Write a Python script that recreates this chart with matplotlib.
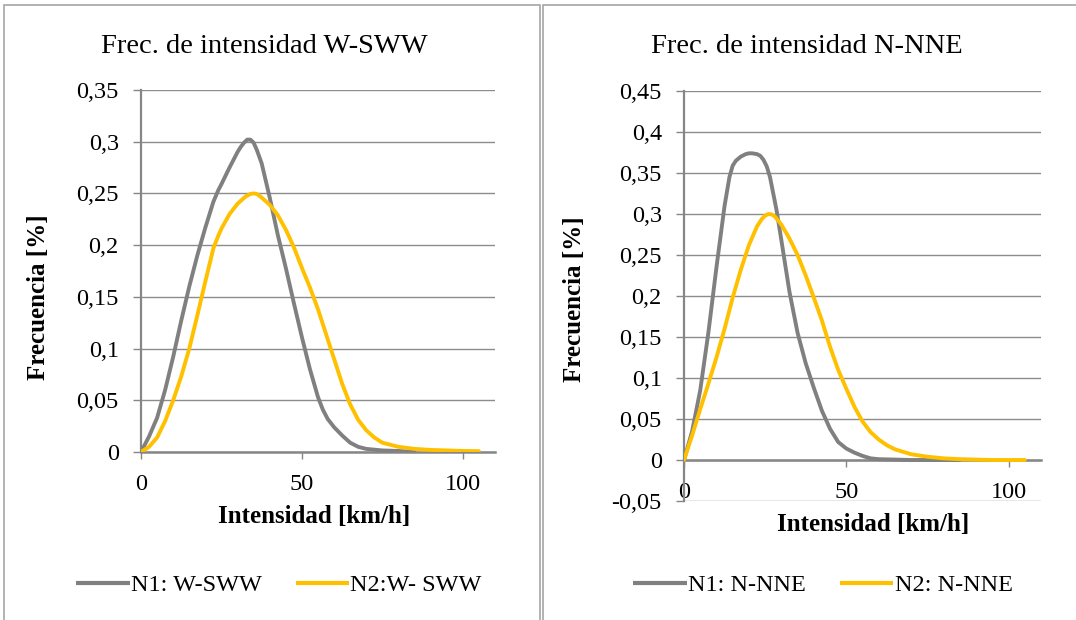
import matplotlib
matplotlib.use("Agg")
import matplotlib.pyplot as plt
from matplotlib.ticker import FuncFormatter, FixedLocator
from matplotlib.patches import Rectangle

plt.rcParams['font.family'] = ['Liberation Serif', 'DejaVu Serif']

# ---------------- data ----------------
ws_n1_x = [0, 2.5, 5, 7.5, 10, 12.5, 15, 17.5, 20, 22.5, 24, 25, 27.5, 30, 31, 32, 33, 34, 35,
           36, 37.5, 40, 42.5, 45, 47.5, 50, 52.5, 55, 56.5, 58, 60, 62.5, 65, 67.5, 70, 75,
           80, 85]
ws_n1_y = [0, 0.015, 0.033, 0.06, 0.092, 0.127, 0.16, 0.19, 0.217, 0.242, 0.253, 0.259, 0.275,
           0.29, 0.295, 0.299, 0.302, 0.302, 0.299, 0.292, 0.279, 0.246, 0.21, 0.178, 0.144,
           0.111, 0.08, 0.053, 0.041, 0.032, 0.024, 0.016, 0.009, 0.005, 0.003, 0.0015,
           0.001, 0]

ws_n2_x = [0, 2.5, 5, 7.5, 10, 12.5, 15, 17.5, 20, 22.5, 24, 25, 27.5, 30, 32.5, 34, 35, 36,
           37.5, 40, 42.5, 45, 47.5, 50, 52.5, 55, 57.5, 60, 62.5, 65, 67.5, 70, 72.5, 75, 80,
           85, 90, 95, 100, 105]
ws_n2_y = [0, 0.005, 0.014, 0.03, 0.05, 0.073, 0.1, 0.132, 0.165, 0.197, 0.209, 0.216, 0.23,
           0.24, 0.247, 0.2495, 0.25, 0.2495, 0.246, 0.239, 0.229, 0.215, 0.198, 0.178, 0.159,
           0.138, 0.114, 0.09, 0.066, 0.046, 0.031, 0.021, 0.014, 0.009, 0.005, 0.003, 0.002,
           0.0015, 0.001, 0.0008]

nn_n1_x = [0, 2.5, 5, 7.5, 10, 12.5, 14, 15, 16, 17.5, 19, 20, 21, 22.5, 23.5, 24.5, 25.5,
           26.5, 28.5, 30, 32.5, 35, 37.5, 40, 42.5, 45, 47.5, 50, 52.5, 55, 57.5, 60, 65, 70,
           80, 85]
nn_n1_y = [0, 0.035, 0.085, 0.155, 0.235, 0.31, 0.345, 0.359, 0.365, 0.37, 0.373, 0.374,
           0.374, 0.373, 0.371, 0.366, 0.358, 0.345, 0.305, 0.268, 0.205, 0.155, 0.118, 0.088,
           0.06, 0.038, 0.022, 0.014, 0.009, 0.005, 0.002, 0.001, 0.0005, 0, 0, 0]

nn_n2_x = [0, 2.5, 5, 7.5, 10, 12.5, 15, 17.5, 20, 22.5, 24, 25, 26, 27, 28, 30, 32.5, 35,
           37.5, 40, 42.5, 45, 47.5, 50, 52.5, 55, 57.5, 60, 62.5, 65, 70, 75, 80, 85, 90, 95,
           100, 105]
nn_n2_y = [0, 0.03, 0.062, 0.093, 0.125, 0.16, 0.198, 0.232, 0.262, 0.285, 0.294, 0.298, 0.3,
           0.2995, 0.297, 0.287, 0.27, 0.25, 0.225, 0.198, 0.17, 0.138, 0.11, 0.087, 0.065,
           0.047, 0.034, 0.025, 0.018, 0.013, 0.007, 0.004, 0.002, 0.001, 0.0005, 0, 0, 0]

titles = ["Frec. de intensidad W-SWW", "Frec. de intensidad N-NNE"]
labels_left = ["N1: W-SWW", "N2:W- SWW"]
labels_right = ["N1: N-NNE", "N2: N-NNE"]
x_label = "Intensidad [km/h]"
y_label = "Frecuencia [%]"
x_ticks = [0, 50, 100]
y_ticks_left = [0, 0.05, 0.1, 0.15, 0.2, 0.25, 0.3, 0.35]
y_ticks_right = [-0.05, 0, 0.05, 0.1, 0.15, 0.2, 0.25, 0.3, 0.35, 0.4, 0.45]

GRAY = "#808080"
YELLOW = "#ffc000"
AXC = "#868686"
FS = 17.5
LW = 2.8

W, H = 1076, 620
fig = plt.figure(figsize=(W / 100, H / 100), dpi=100)

def fx(px):
    return px / W

def fy(py):
    return 1 - py / H

# panel borders
for (x0, x1) in [(3.5, 540), (543, 1080)]:
    fig.patches.append(Rectangle((fx(x0), fy(640)), fx(x1 - x0), (640 - 5) / H,
                                 transform=fig.transFigure, fill=False,
                                 edgecolor="#a6a6a6", linewidth=1.2))

fmt = FuncFormatter(lambda v, p: ("%g" % round(v, 4)).replace(".", ","))

def setup(ax, yticks, ylim):
    ax.set_xlim(0, 110)
    ax.set_ylim(*ylim)
    ax.yaxis.set_major_locator(FixedLocator(yticks))
    ax.xaxis.set_major_locator(FixedLocator(x_ticks))
    ax.yaxis.set_major_formatter(fmt)
    ax.xaxis.set_major_formatter(FuncFormatter(lambda v, p: "%d" % v))
    ax.grid(axis="y", color="#8c8c8c", linewidth=1.0)
    ax.set_axisbelow(True)
    for s in ["top", "right"]:
        ax.spines[s].set_visible(False)
    ax.spines["left"].set_color(AXC)
    ax.spines["left"].set_linewidth(1.6)
    ax.spines["bottom"].set_color(AXC)
    ax.spines["bottom"].set_linewidth(1.8)
    ax.spines["bottom"].set_position(("data", 0))
    ax.spines["bottom"].set_zorder(1.5)
    ax.tick_params(axis="y", length=6, width=1.0, color=AXC, pad=10, labelsize=FS)
    ax.tick_params(axis="x", length=5, width=1.0, color=AXC, pad=11, labelsize=FS)

# Left chart
axL = fig.add_axes([fx(141), fy(452), fx(495 - 141), (452 - 90) / H])
setup(axL, y_ticks_left, (0, 0.35))
axL.plot(ws_n1_x, ws_n1_y, color=GRAY, lw=LW, solid_joinstyle="round",
         solid_capstyle="round", label=labels_left[0], zorder=3)
axL.plot(ws_n2_x, ws_n2_y, color=YELLOW, lw=LW, solid_joinstyle="round",
         solid_capstyle="round", label=labels_left[1], zorder=3)

# Right chart
axR = fig.add_axes([fx(684), fy(501), fx(1041 - 684), (501 - 91) / H])
setup(axR, y_ticks_right, (-0.05, 0.45))
axR.plot(nn_n1_x, nn_n1_y, color=GRAY, lw=LW, solid_joinstyle="round",
         solid_capstyle="round", label=labels_right[0], zorder=3)
axR.plot(nn_n2_x, nn_n2_y, color=YELLOW, lw=LW, solid_joinstyle="round",
         solid_capstyle="round", label=labels_right[1], zorder=3)

# titles
fig.text(fx(264), fy(53), titles[0], ha="center", va="baseline", fontsize=20.5)
fig.text(fx(807), fy(53), titles[1], ha="center", va="baseline", fontsize=20.5)

# axis labels
fig.text(fx(314), fy(523), x_label, ha="center", va="baseline",
         fontsize=18, fontweight="bold")
fig.text(fx(873), fy(531), x_label, ha="center", va="baseline",
         fontsize=18, fontweight="bold")
fig.text(fx(39), fy(297), y_label, ha="center", va="center", rotation=90,
         fontsize=18, fontweight="bold")
fig.text(fx(575), fy(299), y_label, ha="center", va="center", rotation=90,
         fontsize=18, fontweight="bold")

# legends
for ax, cx in [(axL, 279), (axR, 823)]:
    leg = ax.legend(loc="center", bbox_to_anchor=(fx(cx), fy(585)),
                    bbox_transform=fig.transFigure, ncol=2, frameon=False, fontsize=FS,
                    handlelength=2.2, handletextpad=0.05, columnspacing=1.4, borderpad=0)
    for h in leg.get_lines():
        h.set_linewidth(3.0)
        h.set_solid_capstyle("butt")

fig.savefig("out.png", dpi=100)
